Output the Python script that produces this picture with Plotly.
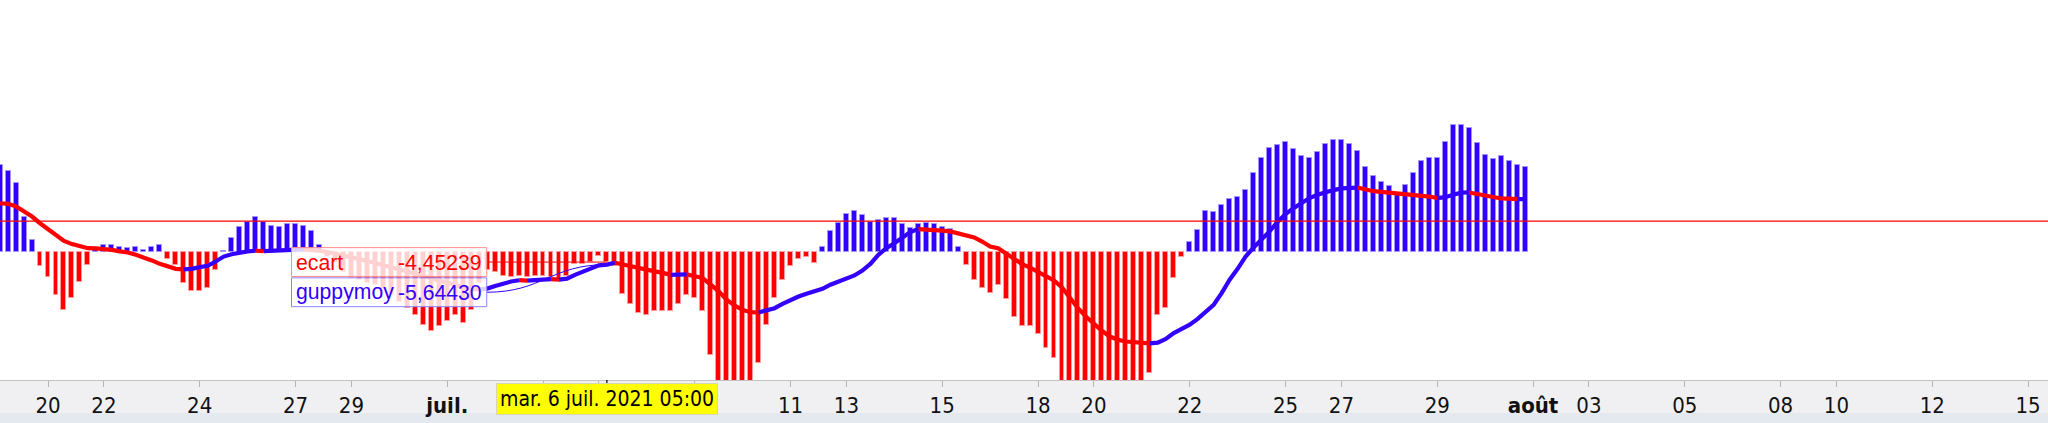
"""
guppy_chart.py — ecart histogram with guppymoy line (H4 bars, juin-août 2021).
"""

import plotly.graph_objects as go

BLUE = "#3300ff"
RED = "#ff0000"
BLUE_EDGE = "#9f94ff"
RED_EDGE = "#ff9a9a"
AXIS_BG = "#f0f0f2"
STRIP_BG = "#e4e9ef"
NARROW = "Liberation Sans Narrow, Arial Narrow, DejaVu Sans Condensed, sans-serif"
ARIAL = "Liberation Sans, Arial, sans-serif"

FIRST_BAR = -6          # index of the first (partly hidden) 4h bar
CROSS_BAR = 70          # mar. 6 juil. 2021 05:00
SIGNAL_LEVEL = 14.6     # red horizontal level

# ecart histogram, one value per 4h bar
ecart = [
    40.8, 37.7, 32.2, 16.7, 5.6, -6.5,
    -11.5, -19.7, -26.7, -21.2, -13.5, -5.7, 1.2, 3.3, 3.3, 2.5,
    2.0, 2.5, 1.2, 2.5, 3.3, -3.1, -6.0, -14.3, -17.7, -17.7,
    -16.3, -8.1, 0.5, 6.7, 11.8, 14.4, 16.7, 14.4, 12.1, 11.8,
    13.2, 13.2, 12.1, 10.2, 3.3, -2.0, -5.0, -9.0, -12.0, -13.0,
    -14.0, -15.0, -17.0, -20.0, -23.0, -26.0, -29.0, -33.6, -36.4, -34.4,
    -31.8, -29.0, -32.9, -26.7, -14.0, -8.0, -9.0, -11.0, -11.5, -11.0,
    -11.5, -11.0, -11.0, -11.5, -12.5, -11.0, -5.5, -5.5, -4.5, -1.8,
    -4.45239, -6.5, -19.2, -24.0, -28.2, -29.0, -27.0, -27.0, -27.4, -24.0,
    -19.7, -21.2, -27.0, -47.6, -63.0, -68.0, -66.0, -64.0, -62.0, -51.5,
    -33.6, -21.2, -12.7, -6.5, -2.9, -2.2, -5.0, 2.5, 10.2, 13.6,
    18.0, 19.4, 17.5, 14.4, 15.2, 16.0, 16.0, 13.2, 11.6, 13.2,
    13.6, 13.2, 11.8, 11.0, 2.5, -5.7, -12.7, -16.3, -18.9, -15.0,
    -21.7, -29.8, -34.4, -34.4, -38.0, -44.2, -49.1, -61.0, -64.0, -67.0,
    -70.0, -72.0, -71.0, -69.0, -68.0, -66.0, -64.0, -61.0, -56.0, -29.0,
    -25.9, -11.9, -2.3, 4.8, 10.4, 19.4, 18.8, 22.2, 25.0, 25.7,
    29.1, 36.9, 43.9, 48.8, 50.0, 51.6, 48.2, 44.7, 43.9, 46.7,
    50.4, 52.4, 52.4, 50.4, 47.4, 39.7, 35.7, 32.7, 30.7, 27.0,
    31.5, 36.9, 42.6, 43.9, 43.9, 51.6, 59.4, 59.4, 57.8, 50.9,
    45.4, 43.4, 44.7, 42.6, 40.5, 39.7,
]

# guppymoy line, same bars
guppymoy = [
    22.9, 22.6, 21.4, 19.1, 16.7, 13.6,
    11.0, 8.2, 5.4, 3.9, 2.8, 2.0, 1.9, 1.7, 1.2, 0.5,
    0.0, -1.1, -2.3, -3.7, -5.3, -6.5, -7.6, -7.9, -7.6, -6.8,
    -6.2, -4.2, -1.9, -0.8, 0.0, 0.5, 0.8, 0.6, 0.8, 1.0,
    1.2, 1.3, 1.4, 1.2, 0.8, 0.2, -0.5, -1.3, -2.2, -3.1,
    -4.0, -4.9, -5.8, -6.8, -7.8, -8.8, -9.9, -11.0, -12.1, -13.2,
    -14.3, -15.3, -16.2, -16.9, -17.2, -16.8, -15.6, -14.4, -13.5, -12.9,
    -13.1, -12.8, -12.6, -12.4, -12.6, -12.2, -10.4, -8.8, -7.3, -6.0,
    -5.6443, -4.8, -5.7, -6.5, -7.3, -8.1, -8.8, -9.5, -10.4, -10.3,
    -10.2, -10.9, -11.9, -15.0, -18.1, -22.0, -24.7, -26.7, -27.8, -27.9,
    -26.8, -25.9, -23.9, -22.0, -20.5, -19.2, -18.1, -16.9, -15.0, -13.5,
    -12.2, -10.7, -8.4, -5.3, -1.1, 2.0, 4.3, 6.7, 9.5, 10.9,
    10.8, 10.5, 10.2, 9.8, 8.8, 7.8, 7.0, 5.1, 2.8, 2.0,
    -0.3, -2.9, -5.4, -7.0, -9.1, -11.2, -13.0, -16.3, -21.2, -25.9,
    -29.8, -33.3, -36.4, -39.1, -40.6, -41.4, -41.7, -42.0, -42.3, -41.9,
    -40.2, -37.5, -35.5, -33.6, -30.9, -27.4, -24.3, -18.9, -12.7, -7.6,
    -1.9, 2.3, 5.9, 9.8, 14.2, 17.8, 20.6, 22.9, 25.3, 26.8,
    28.1, 29.0, 29.8, 30.1, 30.2, 29.1, 28.5, 28.2, 27.9, 27.4,
    27.1, 26.8, 26.5, 26.0, 25.3, 25.7, 26.8, 27.8, 27.9, 27.1,
    26.4, 25.7, 25.1, 25.0, 24.8, 24.85,
]

# day ticks, as bar index of the first bar of the day
# (4, 6 and 8 juil. sit under the date label, so they carry no text)
tick_bars = [0, 7, 19, 31, 38, 50, 62, 69, 81, 93, 100, 112,
             124, 131, 143, 155, 162, 174, 186, 193, 205, 217, 224, 236, 248]
tick_labels = ["20", "22", "24", "27", "29", "<b>juil.</b>", "", "", "",
               "11", "13", "15", "18", "20", "22", "25", "27", "29",
               "<b>août</b>", "03", "05", "08", "10", "12", "15"]

bars = list(range(FIRST_BAR, FIRST_BAR + len(ecart)))
ci = CROSS_BAR - FIRST_BAR

fig = go.Figure()

fig.add_trace(go.Bar(
    x=bars,
    y=ecart,
    width=0.62,
    marker=dict(
        color=[BLUE if v >= 0 else RED for v in ecart],
        line=dict(color=[BLUE_EDGE if v >= 0 else RED_EDGE for v in ecart], width=1),
    ),
    hoverinfo="skip",
))

# guppymoy: red while falling, blue while rising
seg = ["red" if guppymoy[i + 1] < guppymoy[i] else "blue" for i in range(len(guppymoy) - 1)]
runs = []
start = 0
for s in range(1, len(seg)):
    if seg[s] != seg[s - 1]:
        runs.append((seg[s - 1], start, s))
        start = s
runs.append((seg[-1], start, len(guppymoy) - 1))

for name, col in (("red", RED), ("blue", BLUE)):
    xs, ys = [], []
    for c, a, b in runs:
        if c != name:
            continue
        xs += bars[a:b + 1] + [None]
        ys += guppymoy[a:b + 1] + [None]
    fig.add_trace(go.Scatter(
        x=xs, y=ys, mode="lines",
        line=dict(color=col, width=4.2, shape="linear"),
        hoverinfo="skip", connectgaps=False,
    ))

# tooltip boxes (left of the crosshair)
box_x0, box_x1 = 30.5, 54.95
half_h = 6.7
ec_mid = ecart[ci]
gp_mid = ec_mid - 2 * half_h - 0.65
tip_font = 21.2

shapes = [
    dict(type="line", xref="paper", x0=0, x1=1, yref="y",
         y0=SIGNAL_LEVEL, y1=SIGNAL_LEVEL, line=dict(color=RED, width=1.3)),
    # leader lines
    dict(type="line", xref="x", yref="y", x0=box_x1, x1=CROSS_BAR,
         y0=ec_mid, y1=ecart[ci], line=dict(color=RED, width=1), layer="above"),
    dict(type="path", xref="x", yref="y", layer="above",
         path=(f"M {box_x1},{gp_mid} C {box_x1 + 7},{gp_mid} "
               f"{CROSS_BAR - 7},{guppymoy[ci]} {CROSS_BAR},{guppymoy[ci]}"),
         line=dict(color=BLUE, width=1)),
    dict(type="rect", xref="x", yref="y", x0=box_x0, x1=box_x1,
         y0=ec_mid - half_h, y1=ec_mid + half_h, layer="above",
         fillcolor="rgba(255,255,255,0.82)", line=dict(color="#ff8c8c", width=1)),
    dict(type="rect", xref="x", yref="y", x0=box_x0, x1=box_x1,
         y0=gp_mid - half_h, y1=gp_mid + half_h, layer="above",
         fillcolor="rgba(255,255,255,0.82)", line=dict(color="#8c84ff", width=1)),
    # crosshair tick on the axis
    dict(type="line", xref="x", yref="paper", x0=CROSS_BAR, x1=CROSS_BAR,
         y0=0, y1=-0.017, line=dict(color="#000000", width=1.2)),
    # bottom strip
    dict(type="rect", xref="paper", yref="paper", x0=0, x1=1,
         y0=-0.087, y1=-0.12, fillcolor=STRIP_BG, line=dict(width=0), layer="below"),
]

annotations = [
    dict(x=box_x0 + 0.25, y=ec_mid, xref="x", yref="y", xanchor="left", yanchor="middle",
         text="ecart", showarrow=False, font=dict(family=ARIAL, size=tip_font, color=RED)),
    dict(x=box_x1 - 0.35, y=ec_mid, xref="x", yref="y", xanchor="right", yanchor="middle",
         text=f"{ecart[ci]:.5f}".replace(".", ","), showarrow=False,
         font=dict(family=ARIAL, size=tip_font, color=RED)),
    dict(x=box_x0 + 0.25, y=gp_mid, xref="x", yref="y", xanchor="left", yanchor="middle",
         text="guppymoy", showarrow=False, font=dict(family=ARIAL, size=tip_font, color=BLUE)),
    dict(x=box_x1 - 0.35, y=gp_mid, xref="x", yref="y", xanchor="right", yanchor="middle",
         text=f"{guppymoy[ci]:.5f}".replace(".", ","), showarrow=False,
         font=dict(family=ARIAL, size=tip_font, color=BLUE)),
    dict(x=CROSS_BAR, y=-0.049, xref="x", yref="paper", xanchor="center", yanchor="middle",
         text="mar. 6 juil. 2021 05:00", showarrow=False,
         font=dict(family=NARROW, size=21, color="#000000"),
         bgcolor="#ffff00", bordercolor="#d8d8b0", borderwidth=1, borderpad=3),
]

fig.update_layout(
    width=2048,
    height=423,
    margin=dict(l=0, r=0, t=0, b=43),
    paper_bgcolor=AXIS_BG,
    plot_bgcolor="#ffffff",
    showlegend=False,
    bargap=0,
    shapes=shapes,
    annotations=annotations,
)
fig.update_xaxes(
    range=[-6.012, 250.5],
    tickmode="array",
    tickvals=tick_bars,
    ticktext=tick_labels,
    ticks="outside",
    ticklen=6,
    tickcolor="#b4b4b4",
    tickfont=dict(family=NARROW, size=22, color="#111111"),
    showline=True,
    linecolor="#c4c4c4",
    linewidth=1,
    showgrid=False,
    zeroline=False,
)
fig.update_yaxes(
    range=[-59.3, 117.4],
    showticklabels=False,
    showgrid=False,
    zeroline=False,
)

# the page body has a default 8px margin; drop it so the figure fills the window
fig.write_html(
    "out.html",
    config={"displayModeBar": False},
    post_script="document.body.style.margin='0';",
)
